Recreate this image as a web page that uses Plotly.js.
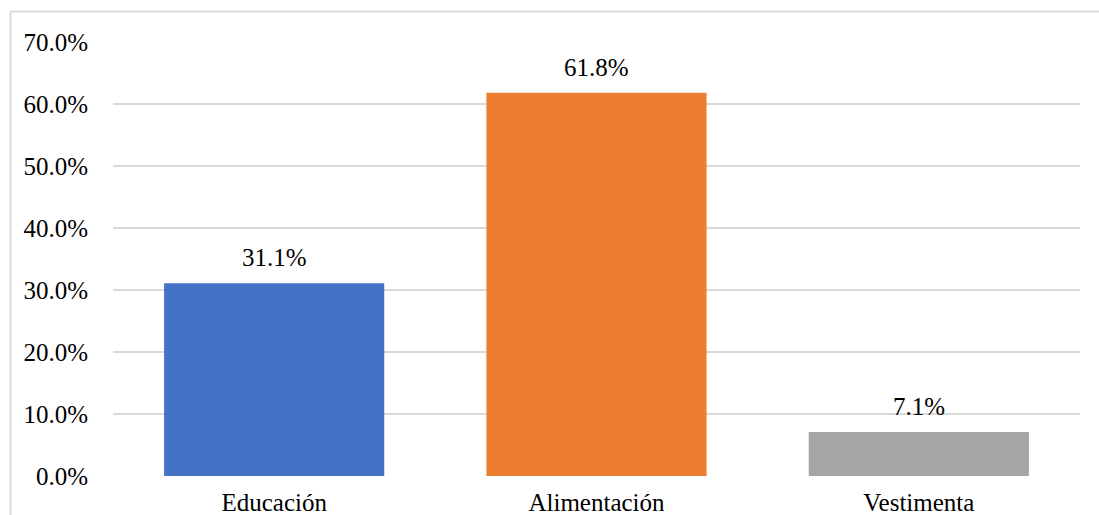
<!DOCTYPE html>
<html>
<head>
<meta charset="utf-8">
<script src="https://cdn.plot.ly/plotly-3.0.1.min.js"></script>
<style>
  html, body { margin: 0; padding: 0; background: #ffffff; overflow: hidden; }
  #chart { width: 1099px; height: 515px; }
</style>
</head>
<body>
<div id="chart"></div>
<script>
const categories = ["Educación", "Alimentación", "Vestimenta"];
const values = [0.311, 0.618, 0.071];
const labels = ["31.1%", "61.8%", "7.1%"];
const colors = ["#4472C4", "#ED7D31", "#A5A5A5"];
const tickVals = [0, 0.1, 0.2, 0.3, 0.4, 0.5, 0.6, 0.7];

const W = 1099, H = 515;
const M = { l: 113, r: 19, t: 42, b: 39 };
const pw = W - M.l - M.r, ph = H - M.t - M.b;
const px = x => (x - M.l) / pw;
const py = y => (H - M.b - y) / ph;

const font = { family: "'Liberation Serif', 'Times New Roman', Times, serif", size: 25, color: "#000000" };

const trace = {
  type: "bar",
  x: categories,
  y: values,
  marker: { color: colors },
  hoverinfo: "skip"
};

const annotations = categories.map((c, i) => ({
  x: c, y: values[i], xref: "x", yref: "y",
  text: labels[i], showarrow: false,
  yanchor: "bottom", yshift: 10,
  font: font
}));

const layout = {
  width: W, height: H,
  margin: M,
  paper_bgcolor: "#ffffff",
  plot_bgcolor: "#ffffff",
  showlegend: false,
  bargap: 0.317,
  font: font,
  xaxis: {
    showgrid: false, zeroline: false, showline: false,
    ticks: "", tickfont: font, ticklabelstandoff: 9
  },
  yaxis: {
    range: [0, 0.7], tickvals: tickVals, tickformat: ".1%",
    showgrid: true, gridcolor: "#d9d9d9", gridwidth: 2,
    zeroline: false, showline: false, ticks: "",
    tickfont: font, ticklabelstandoff: 24
  },
  annotations: annotations,
  shapes: [
    { type: "line", xref: "paper", yref: "paper", x0: px(10.5), x1: px(1100), y0: py(11.5), y1: py(11.5), line: { color: "#d9d9d9", width: 2 } },
    { type: "line", xref: "paper", yref: "paper", x0: px(10.5), x1: px(10.5), y0: py(11.5), y1: py(516), line: { color: "#d9d9d9", width: 2 } }
  ]
};

Plotly.newPlot("chart", [trace], layout, { displayModeBar: false, staticPlot: true });
</script>
</body>
</html>
